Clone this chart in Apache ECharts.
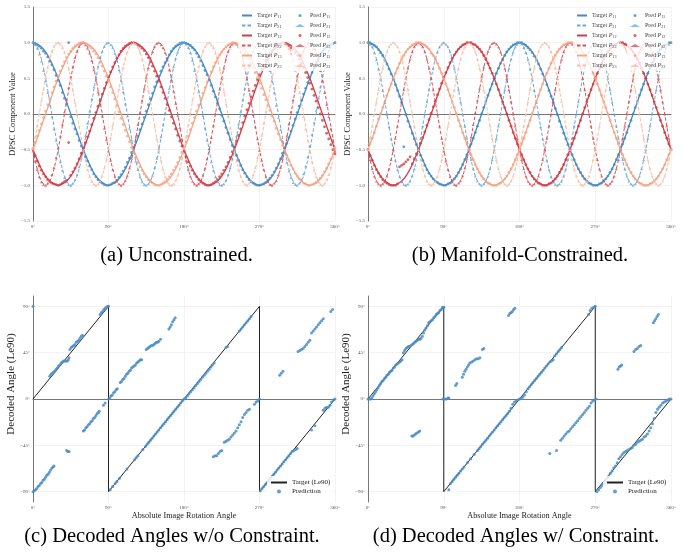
<!DOCTYPE html>
<html><head><meta charset="utf-8">
<script src="https://cdn.jsdelivr.net/npm/echarts@6/dist/echarts.min.js"></script>
<style>html,body{margin:0;padding:0;background:#fff}#c{width:688px;height:554px}</style>
</head><body><div id="c"></div>
<script>
// ---------- DATA ----------
const xTickValues = [0, 90, 180, 270, 360];
const xTickLabels = ['0°', '90°', '180°', '270°', '360°'];
const yTopTickValues = [-1.5, -1, -0.5, 0, 0.5, 1, 1.5];
const yTopTickLabels = ['−1.5', '−1.0', '−0.5', '0.0', '0.5', '1.0', '1.5'];
const yLe90TickValues = [-90, -45, 0, 45, 90];
const yLe90TickLabels = ['−90°', '−45°', '0°', '45°', '90°'];

const targetAngles = [0,5,10,15,20,25,30,35,40,45,50,55,60,65,70,75,80,85,90,95,100,105,110,115,120,125,130,135,140,145,150,155,160,165,170,175,180,185,190,195,200,205,210,215,220,225,230,235,240,245,250,255,260,265,270,275,280,285,290,295,300,305,310,315,320,325,330,335,340,345,350,355,360];
const tgtP11 = [1,.98,.94,.87,.77,.64,.5,.34,.17,0,-.17,-.34,-.5,-.64,-.77,-.87,-.94,-.98,-1,-.98,-.94,-.87,-.77,-.64,-.5,-.34,-.17,0,.17,.34,.5,.64,.77,.87,.94,.98,
1,.98,.94,.87,.77,.64,.5,.34,.17,0,-.17,-.34,-.5,-.64,-.77,-.87,-.94,-.98,-1,-.98,-.94,-.87,-.77,-.64,-.5,-.34,-.17,0,.17,.34,.5,.64,.77,.87,.94,.98,1];
const tgtP21 = [1,.94,.77,.5,.17,-.17,-.5,-.77,-.94,-1,-.94,-.77,-.5,-.17,.17,.5,.77,.94,
1,.94,.77,.5,.17,-.17,-.5,-.77,-.94,-1,-.94,-.77,-.5,-.17,.17,.5,.77,.94,
1,.94,.77,.5,.17,-.17,-.5,-.77,-.94,-1,-.94,-.77,-.5,-.17,.17,.5,.77,.94,
1,.94,.77,.5,.17,-.17,-.5,-.77,-.94,-1,-.94,-.77,-.5,-.17,.17,.5,.77,.94,1];
const tgtP12 = [-.5,-.64,-.77,-.87,-.94,-.98,-1,-.98,-.94,-.87,-.77,-.64,-.5,-.34,-.17,0,.17,.34,.5,.64,.77,.87,.94,.98,1,.98,.94,.87,.77,.64,.5,.34,.17,0,-.17,-.34,
-.5,-.64,-.77,-.87,-.94,-.98,-1,-.98,-.94,-.87,-.77,-.64,-.5,-.34,-.17,0,.17,.34,.5,.64,.77,.87,.94,.98,1,.98,.94,.87,.77,.64,.5,.34,.17,0,-.17,-.34,-.5];
const tgtP22 = [-.5,-.77,-.94,-1,-.94,-.77,-.5,-.17,.17,.5,.77,.94,1,.94,.77,.5,.17,-.17,
-.5,-.77,-.94,-1,-.94,-.77,-.5,-.17,.17,.5,.77,.94,1,.94,.77,.5,.17,-.17,
-.5,-.77,-.94,-1,-.94,-.77,-.5,-.17,.17,.5,.77,.94,1,.94,.77,.5,.17,-.17,
-.5,-.77,-.94,-1,-.94,-.77,-.5,-.17,.17,.5,.77,.94,1,.94,.77,.5,.17,-.17,-.5];
const tgtP13 = [-.5,-.34,-.17,0,.17,.34,.5,.64,.77,.87,.94,.98,1,.98,.94,.87,.77,.64,.5,.34,.17,0,-.17,-.34,-.5,-.64,-.77,-.87,-.94,-.98,-1,-.98,-.94,-.87,-.77,-.64,
-.5,-.34,-.17,0,.17,.34,.5,.64,.77,.87,.94,.98,1,.98,.94,.87,.77,.64,.5,.34,.17,0,-.17,-.34,-.5,-.64,-.77,-.87,-.94,-.98,-1,-.98,-.94,-.87,-.77,-.64,-.5];
const tgtP23 = [-.5,-.17,.17,.5,.77,.94,1,.94,.77,.5,.17,-.17,-.5,-.77,-.94,-1,-.94,-.77,
-.5,-.17,.17,.5,.77,.94,1,.94,.77,.5,.17,-.17,-.5,-.77,-.94,-1,-.94,-.77,
-.5,-.17,.17,.5,.77,.94,1,.94,.77,.5,.17,-.17,-.5,-.77,-.94,-1,-.94,-.77,
-.5,-.17,.17,.5,.77,.94,1,.94,.77,.5,.17,-.17,-.5,-.77,-.94,-1,-.94,-.77,-.5];

const predAngles = [0,2.5,5,7.5,10,12.5,15,17.5,20,22.5,25,27.5,30,32.5,35,37.5,40,42.5,45,47.5,50,52.5,55,57.5,60,62.5,65,67.5,70,72.5,75,77.5,80,82.5,85,87.5,
90,92.5,95,97.5,100,102.5,105,107.5,110,112.5,115,117.5,120,122.5,125,127.5,130,132.5,135,137.5,140,142.5,145,147.5,150,152.5,155,157.5,160,162.5,165,167.5,170,172.5,175,177.5,
180,182.5,185,187.5,190,192.5,195,197.5,200,202.5,205,207.5,210,212.5,215,217.5,220,222.5,225,227.5,230,232.5,235,237.5,240,242.5,245,247.5,250,252.5,255,257.5,260,262.5,265,267.5,
270,272.5,275,277.5,280,282.5,285,287.5,290,292.5,295,297.5,300,302.5,305,307.5,310,312.5,315,317.5,320,322.5,325,327.5,330,332.5,335,337.5,340,342.5,345,347.5,350,352.5,355,357.5,360];

// (a) Unconstrained predictions
const predA_P11 = [1,.99,.97,.95,.92,.88,.85,.80,.74,.69,.62,.54,
.47,.40,.30,.22,.14,1,-.04,-.13,-.21,-.28,-.37,-.45,
-.52,-.60,-.66,-.73,-.78,-.84,-.88,-.92,-.95,-.97,-.99,-1,
-1,-.99,-.97,-.96,-.93,-.89,-.85,-.80,-.75,-.68,-.62,-.54,
-.47,-.39,-.31,-.22,-.14,-.05,.04,.13,.21,.29,.38,.45,
.53,.60,.66,.72,.78,.83,.88,.92,.95,.97,.99,1,
1,.99,.98,.96,.93,.90,.85,.80,.75,.68,.61,.55,
.48,.40,.32,.24,.15,.07,-.02,-.10,-.19,-.27,-.36,-.44,
-.51,-.58,-.65,-.72,-.78,-.83,-.88,-.92,-.95,-.97,-.99,-1,
-1,-.99,-.98,-.96,-.93,-.90,-.86,-.81,-.76,-.70,-.63,-.55,
-.48,-.41,-.33,-.24,-.16,-.07,.02,.11,.19,.28,.36,.44,
.51,.58,.65,.72,.77,.83,.87,.91,.94,.97,.98,.99,1];
const predA_P21 = [1,.97,.92,.84,.74,.61,.46,.30,.13,-.04,-.21,-.37,
-.53,-.67,-.79,-.89,-.95,-.99,-1,-.97,-.92,-.85,-.74,-.6,
-.46,-.30,-.13,.04,.21,.38,.53,.67,.79,.88,.95,.99,
1,.97,.93,.85,.75,.62,.47,.31,.14,-.03,-.2,-.36,
-.52,-.66,-.78,-.88,-.95,-.99,-1,-.98,-.93,-.86,-.75,-.62,
-.48,-.32,-.15,.02,.19,.36,.52,.66,.78,.87,.94,.99,
1,.98,.93,.86,.75,.61,.47,.31,.14,-.02,-.2,-.37,
-.53,-.67,-.79,-.88,-.95,-.99,-1,-.98,-.93,-.85,-.75,-.62,
-.47,-.31,-.14,.03,.2,.36,.52,.66,.78,.88,.94,.99,
1,.97,.92,.85,.74,.61,.46,.3,.12,-.05,-.22,-.38,
-.54,-.68,-.8,-.89,-.96,-.99,-1,-.97,-.92,-.84,-.73,-.6,
-.45,-.29,-.12,.05,.22,.38,.54,.68,.8,.89,.95,.99,1];
const predA_P12 = [-.5,-.58,-.66,-.73,-.79,-.84,-.88,-.92,-.95,-.97,-.98,-.99,
-1,-.99,-.97,-.95,-.93,-.4,-.86,-.81,-.76,-.7,-.63,-.55,
-.48,-.4,-.32,-.24,-.15,-.06,.02,.11,.19,.28,.36,.44,
.52,.59,.66,.72,.78,.83,.88,.92,.95,.97,.99,1,
1,.99,.97,.95,.92,.89,.84,.79,.73,.67,.6,.53,
.46,.38,.3,.22,.13,.05,-.04,-.13,-.21,-.3,-.38,-.45,
-.52,-.6,-.67,-.73,-.79,-.84,-.88,-.92,-.95,-.97,-.99,-1,
-1,-.99,-.97,-.95,-.92,-.88,-.84,-.79,-.74,-.68,-.61,-.53,
-.46,-.38,-.3,-.21,-.12,-.03,.06,.15,.24,.32,.4,.48,
.55,.62,.69,.75,.8,.85,.89,.93,.96,.98,.99,1,
.99,.98,.96,.93,.9,.86,.82,.77,.71,.65,.58,.51,
.43,.35,.26,.18,.09,0,-.09,-.18,-.27,-.35,-.43,-.5,-.56];
const predA_P22 = [-.52,-.66,-.78,-.88,-.95,-.99,-1,-.97,-.93,-.85,-.75,-.61,
-.47,-.31,-.14,.03,.2,.37,.52,.66,.79,.88,.95,.99,
1,.97,.92,.85,.75,.62,.47,.31,.14,-.03,-.2,-.36,
-.52,-.65,-.78,-.88,-.94,-.98,-1,-.98,-.93,-.86,-.76,-.62,
-.48,-.32,-.15,.02,.19,.36,.51,.65,.78,.88,.95,.99,
1,.97,.93,.86,.76,.62,.48,.32,.15,-.02,-.19,-.35,
-.51,-.65,-.78,-.87,-.94,-.98,-1,-.98,-.94,-.86,-.76,-.63,
-.49,-.33,-.16,.01,.18,.35,.5,.64,.77,.87,.94,.98,
1,.98,.94,.87,.77,.63,.49,.33,.16,-.01,-.18,-.35,
-.51,-.65,-.78,-.88,-.95,-.99,-1,-.97,-.93,-.85,-.75,-.62,
-.47,-.31,-.14,.03,.2,.37,.53,.67,.79,.89,.95,.99,
1,.97,.92,.84,.74,.61,.46,.3,.13,-.04,-.21,-.37,-.52];
const predA_P13 = [-.48,-.4,-.31,-.23,-.14,-.05,.04,.13,.21,.3,.38,.46,
.53,.6,.67,.73,.79,.84,.88,.92,.95,.97,.99,1,
1,.99,.97,.95,.92,.88,.84,.79,.73,.67,.6,.53,
.46,.38,.3,.21,.12,.03,-.06,-.15,-.23,-.31,-.39,-.47,
-.54,-.61,-.68,-.74,-.79,-.84,-.88,-.92,-.95,-.97,-.99,-1,
-1,-.99,-.97,-.95,-.92,-.88,-.84,-.79,-.74,-.68,-.61,-.54,
-.47,-.39,-.31,-.22,-.13,-.05,.04,.12,.21,.29,.37,.45,
.52,.59,.66,.72,.78,.83,.87,.91,.94,.97,.98,1,
.99,.98,.96,.93,.9,.86,.82,.77,.71,.65,.58,.51,
.43,.36,.27,.2,.12,.05,-.03,-.1,-.2,-.28,-.36,-.44,
-.51,-.58,-.65,-.72,-.77,-.83,-.87,-.91,-.94,-.97,-.98,-1,
-1,-.99,-.98,-.96,-.93,-.9,-.86,-.81,-.76,-.7,-.63,-.56,-.49];
const predA_P23 = [-.49,-.33,-.16,.01,.18,.35,.51,.65,.78,.88,.95,.99,
1,.98,.93,.86,.76,.63,.49,.33,.16,-.01,-.18,-.35,
-.51,-.65,-.78,-.88,-.94,-.98,-1,-.98,-.94,-.86,-.76,-.63,
-.49,-.33,-.16,.01,.18,.35,.51,.65,.77,.87,.94,.98,
1,.98,.94,.87,.77,.64,.49,.33,.16,-.01,-.18,-.35,
-.51,-.65,-.78,-.88,-.95,-.99,-1,-.98,-.93,-.86,-.76,-.63,
-.48,-.32,-.15,.02,.19,.36,.52,.66,.78,.88,.95,.99,
1,.97,.93,.85,.75,.62,.47,.31,.14,-.03,-.2,-.36,
-.52,-.66,-.78,-.88,-.94,-.98,-1,-.97,-.93,-.85,-.75,-.61,
-.47,-.3,-.13,.04,.21,.38,.53,.67,.79,.88,.95,.99,
1,.97,.92,.85,.75,.61,.46,.3,.13,-.04,-.21,-.37,
-.53,-.67,-.79,-.88,-.95,-.99,-1,-.97,-.92,-.85,-.74,-.6,-.46];

// (b) Manifold-constrained predictions
const predB_P11 = [1,1,.98,.96,.94,.9,.86,.82,.76,.7,.63,.56,
.49,.41,.33,.25,.16,-.46,-.01,-.1,-.18,-.27,-.35,-.43,
-.51,-.58,-.65,-.72,-.78,-.83,-.87,-.91,-.94,-.96,-.98,-.99,
-1,-1,-.98,-.97,-.94,-.91,-.87,-.82,-.77,-.71,-.64,-.57,
-.5,-.42,-.34,-.26,-.17,-.09,0,.09,.17,.26,.34,.42,
.5,.57,.64,.71,.77,.82,.87,.91,.94,.97,.98,1,
1,1,.98,.96,.93,.9,.86,.81,.76,.7,.63,.56,
.49,.41,.33,.25,.16,.08,-.01,-.1,-.18,-.27,-.35,-.43,
-.5,-.57,-.64,-.71,-.77,-.82,-.87,-.91,-.94,-.97,-.98,-1,
-1,-1,-.98,-.97,-.94,-.91,-.87,-.82,-.77,-.71,-.64,-.57,
-.5,-.42,-.34,-.26,-.17,-.09,0,.09,.17,.26,.34,.42,
.5,.57,.64,.71,.77,.82,.87,.91,.94,.97,.98,1,1];
const predB_P21 = [1,.98,.94,.86,.76,.63,.49,.33,.16,-.01,-.18,-.35,
-.51,-.65,-.78,-.88,-.95,-.99,-1,-.98,-.94,-.87,-.77,-.64,
-.5,-.34,-.17,0,.17,.34,.5,.64,.77,.87,.94,.98,
1,.98,.94,.87,.77,.64,.5,.34,.17,0,-.17,-.34,
-.5,-.64,-.77,-.87,-.94,-.98,-1,-.98,-.94,-.87,-.77,-.64,
-.5,-.34,-.17,0,.17,.34,.5,.64,.77,.87,.94,.98,
1,.98,.93,.86,.76,.63,.49,.33,.16,-.01,-.18,-.35,
-.51,-.65,-.78,-.88,-.95,-.99,-1,-.98,-.94,-.87,-.77,-.64,
-.5,-.34,-.17,0,.17,.34,.5,.64,.77,.87,.94,.98,
1,.98,.94,.87,.77,.64,.5,.34,.17,0,-.17,-.34,
-.5,-.64,-.77,-.87,-.94,-.98,-1,-.98,-.94,-.87,-.77,-.64,
-.5,-.34,-.17,0,.17,.34,.5,.64,.77,.87,.94,.98,1];
const predB_P12 = [-.5,-.58,-.65,-.72,-.78,-.83,-.88,-.92,-.95,-.97,-.99,-1,
-1,-1,-.98,-.74,-.72,-.7,-.67,-.64,-.6,-.7,-.63,-.56,
-.49,-.41,-.33,-.25,-.16,-.08,.01,.1,.18,.27,.35,.43,
.51,.58,.65,.72,.78,.83,.87,.91,.94,.97,.98,1,
1,1,.98,.97,.94,.91,.87,.82,.77,.71,.64,.57,
.5,.42,.34,.26,.17,.09,0,-.09,-.17,-.26,-.34,-.42,
-.5,-.57,-.64,-.71,-.77,-.82,-.87,-.91,-.94,-.97,-.98,-1,
-1,-1,-.98,-.97,-.94,-.91,-.87,-.82,-.77,-.71,-.64,-.57,
-.5,-.42,-.34,-.26,-.17,-.09,0,.09,.17,.26,.34,.42,
.5,.57,.64,.71,.77,.82,.87,.91,.94,.97,.98,1,
1,1,.98,.97,.94,.91,.87,.82,.77,.71,.64,.57,
.5,.42,.34,.26,.17,.09,0,-.09,-.17,-.26,-.34,-.42,-.5];
const predB_P22 = [-.5,-.64,-.77,-.87,-.94,-.98,-1,-.98,-.94,-.87,-.77,-.64,
-.5,-.34,-.17,0,.17,.34,.5,.64,.77,.87,.94,.98,
1,.98,.94,.87,.77,.64,.5,.34,.17,0,-.17,-.34,
-.52,-.66,-.78,-.88,-.95,-.99,-1,-.97,-.93,-.86,-.76,-.62,
-.48,-.32,-.15,.02,.19,.36,.52,.66,.78,.88,.95,.99,
1,.98,.94,.87,.77,.64,.5,.34,.17,0,-.17,-.34,
-.5,-.64,-.77,-.87,-.94,-.98,-1,-.98,-.94,-.87,-.77,-.64,
-.5,-.34,-.17,0,.17,.34,.5,.64,.77,.87,.94,.98,
1,.98,.94,.87,.77,.64,.5,.34,.17,0,-.17,-.34,
-.5,-.64,-.77,-.87,-.94,-.98,-1,-.98,-.94,-.87,-.77,-.64,
-.5,-.34,-.17,0,.17,.34,.5,.64,.77,.87,.94,.98,
1,.98,.94,.87,.77,.64,.5,.34,.17,0,-.17,-.34,-.5];
const predB_P13 = [-.5,-.42,-.34,-.26,-.17,-.07,0,.09,.17,.26,.34,.42,
.5,.57,.64,.71,.77,.82,.87,.91,.94,.97,.98,1,
1,1,.98,.97,.94,.91,.85,.82,.77,.71,.64,.57,
.5,.42,.34,.26,.17,.09,0,-.09,-.17,-.26,-.34,-.42,
-.5,-.57,-.64,-.71,-.77,-.82,-.87,-.91,-.94,-.97,-.98,-1,
-1,-1,-.98,-.97,-.94,-.91,-.87,-.82,-.77,-.71,-.64,-.57,
-.5,-.42,-.34,-.26,-.17,-.09,0,.09,.17,.26,.34,.42,
.5,.57,.64,.71,.77,.82,.87,.91,.94,.97,.98,1,
1,1,.98,.97,.93,.91,.87,.82,.77,.71,.64,.57,
.5,.42,.34,.26,.17,.09,0,-.09,-.17,-.26,-.34,-.42,
-.5,-.57,-.64,-.71,-.77,-.82,-.87,-.91,-.94,-.97,-.98,-1,
-1,-1,-.98,-.97,-.94,-.91,-.87,-.82,-.77,-.71,-.64,-.57,-.5];
const predB_P23 = [-.5,-.34,-.17,0,.17,.34,.5,.64,.77,.87,.94,.98,
1,.98,.94,.87,.77,.64,.5,.34,.17,0,-.17,-.34,
-.5,-.64,-.77,-.87,-.94,-.98,-1,-.98,-.94,-.87,-.77,-.64,
-.5,-.34,-.17,0,.17,.34,.5,.64,.77,.87,.94,.98,
1,.98,.94,.87,.77,.64,.5,.34,.17,0,-.17,-.34,
-.5,-.64,-.77,-.87,-.94,-.98,-1,-.98,-.94,-.87,-.77,-.64,
-.5,-.34,-.17,0,.17,.34,.5,.64,.77,.87,.94,.98,
1,.98,.94,.87,.77,.64,.5,.34,.17,0,-.17,-.34,
-.5,-.64,-.77,-.87,-.94,-.98,-1,-.98,-.94,-.87,-.77,-.64,
-.5,-.34,-.17,0,.17,.34,.5,.64,.77,.87,.94,.98,
1,.98,.94,.87,.77,.64,.5,.34,.17,0,-.17,-.34,
-.5,-.64,-.77,-.87,-.94,-.98,-1,-.98,-.94,-.87,-.77,-.64,-.5];

// Le90 target (sawtooth with wrap jumps)
const le90X = [0, 90, 90, 270, 270, 360];
const le90Y = [0, 90, -90, 90, -90, 0];

// (c) decoded angles without constraint: [absolute angle, decoded angle]
const predC = [
[0,90],
[0,-90],[1.5,-89],[3,-88],[4.5,-87],[6,-85],[7.5,-84],[9,-82],[10.5,-81],[12,-79],[13.5,-78],[15,-76],[16.5,-74],[18,-73],[19.5,-71],[21,-69],[22.5,-67],[24,-66],[25,-65],
[20,22],[21.5,24],[23,25],[24.5,26],[26,27],[27.5,29],[29,30],[30.5,32],[32,33],[33.5,35],[35,36],[36.5,37],[38,37],[39.5,37],[41,37],[42,38],[43,40],[44,48],[45.5,50],[47,51],[48.5,52],[50,53],[51.5,55],[53,56],[54.5,57],[56,59],[57.5,61],[59,62],
[80,82],[81.5,84],[83,85],[84.5,87],[86,88],[87.5,89],[89,90],[90,90],
[40,-50],[41.5,-51],[43,-51],
[60,-31],[61.5,-30],[63,-28],[64.5,-27],[66,-25],[67.5,-24],[69,-22],[70.5,-21],[72,-19],[73.5,-18],[75,-16],[76.5,-14],[78,-13],[79,-12],[84,-6],[86,-4],
[90,0],[91.5,1],[93,3],[94.5,4],[96,6],[97.5,7],[99,9],[100.5,10],[104,16],[105.5,17],[107,19],[108.5,20],[110,22],[111.5,24],[113,25],[114.5,27],[116,28],[117.5,30],[119,31],[120.5,32],[122,33],[123.5,35],[125,36],[126.5,37],[128,38],[129.5,38],
[135,48],[136.5,49],[138,50],[139.5,51],[141,52],[142.5,52],[144,53],[145.5,54],[147,55],[148.5,55],[150,56],[152,58],[162,68],[163.5,70],[165,72],[166.5,75],[168,77],[169.5,79],
[92,-88],[95,-85],[98,-82],[100,-80],[103,-77],[112,-68],[121,-59],[123,-57],[125,-55],[131,-49],[134,-46],[136,-44],[138,-42],[140,-40],[142,-38],[144,-36],[146,-34],[148,-32],[150,-30],[152,-28],[154,-26],[156,-24],[158,-22],[160,-20],[162,-18],[164,-16],[166,-14],[168,-12],[170,-10],[172,-8],[174,-6],[176,-4],[178,-2],[180,0],[182,1],[184,3],[186,5],[188,7],[190,9],[192,11],[194,13],[196,15],[198,17],[200,19],[202,21],[204,23],[206,25],[208,27],[210,29],[212,31],[214,33],[216,35],[230,50],[232,51],[246,66],[248,68],[250,70],[252,72],[254,74],[256,76],[258,78],[260,80],
[215,-56],[217,-55],[219,-55],[221,-53],[223,-51],[225,-50],[228,-42],[230,-41],[232,-40],[234,-39],[236,-37],[238,-35],[240,-33],[242,-31],[244,-28],[246,-25],[248,-22],[250,-18],[252,-15],[254,-13],[256,-11],[258,-10],[264,-5],[266,-3],[268,-2],[270,0],
[271,-89],[273,-87],[275,-85],[277,-83],[279,-81],[281,-79],[283,-77],[285,-75],[287,-73],[289,-71],[291,-69],[293,-67],[295,-65],[297,-63],[299,-61],[301,-59],[303,-57],[305,-55],[307,-53],[309,-51],[311,-50],[313,-49],[315,-48],[332,-30],[336,-26],[346,-11],[348,-9],[350,-8],[352,-8],[354,-6],[356,-3],[358,-1],[360,0],
[294,23],[296,25],[298,27],[316,46],[318,47],[320,48],[322,49],[324,51],[326,53],[328,55],[330,57],[332,64],[334,66],[336,68],[338,70],[340,72],[342,74],[344,76],[346,78],[355,85],[357,87]
];

// (d) decoded angles with constraint
const predD = [
[0,0],[1.5,0],[3,0],[4.5,1],[6,3],[7.5,5],[9,7],[10.5,9],[12,11],[13.5,13],[15,15],[16.5,17],[18,18],[19.5,20],[21,21],[22.5,23],[24,24],[25.5,26],[27,27],[28.5,28],[30,30],[31.5,31],[33,33],[34.5,34],[36,35],[37.5,36],[39,37],[40.5,38],[42,45],[43.5,47],[45,49],[46.5,50],[48,51],[49.5,51],[51,52],[52.5,53],[54,54],[55.5,55],[57,56],[58.5,57],[60,58],[61.5,58],[63,59],[64.5,61],[66,64],[67.5,67],[69,69],[70.5,71],[72,74],[73.5,75],[75,76],[76.5,77],[78,79],[79.5,80],[81,82],[82.5,83],[84,84],[85.5,86],[87,87],[88.5,89],[90,89],
[52,-36],[53.5,-36],[55,-35],[56.5,-34],[58,-33],[60,-32],[61.5,-31],
[89,0],[91,0],[93,0],[95,1],[96,1],
[104,13],[105.5,15],[112,21],[113.5,24],[115,27],[116.5,29],[118,31],[119.5,33],[121,35],[123,36],[125,37],[127,38],[129,39],[131,39],[133,40],[136,48],[137.5,49],
[167,81],[168.5,83],[170,84],[171.5,85],[173,87],[174.5,88],
[96,-88],[98,-82],[100,-80],[102,-78],[104,-76],[106,-74],[108,-72],[110,-70],[112,-68],[114,-66],[118,-62],[122,-58],[126,-54],[130,-50],[132,-48],[134,-46],[136,-44],[138,-42],[140,-40],[142,-38],[144,-36],[146,-34],[148,-32],[150,-30],[152,-28],[154,-26],[156,-24],[158,-22],[160,-20],[162,-18],[164,-16],[166,-14],[168,-12],[170,-9],[172,-5],[174,-3],[176,-2],[178,-1],[180,0],[182,1],[184,2],[186,4],[188,7],[190,10],[192,12],[194,14],[196,16],[198,18],[200,20],[202,22],[204,24],[206,26],[208,28],[210,30],[212,32],[214,34],[216,36],[218,37],[220,38],[222,42],[224,44],[226,46],[228,48],[230,50],[262,82],[264,86],[266,88],[268,89],[270,90],
[216,-53],[224,-50],[229,-40],[231,-38],[233,-36],[235,-34],[237,-32],[239,-31],[241,-29],[243,-27],[245,-25],[247,-23],[249,-21],[251,-19],[253,-17],[255,-15],[257,-13],[259,-11],[261,-9],[263,-7],[265,-4],[267,-2],[269,-1],[271,0],
[272,-90],[274,-88],[276,-86],[278,-84],[280,-82],[282,-80],[284,-77],[286,-75],[288,-72],[290,-70],[292,-67],[294,-65],[296,-62],[298,-58],[300,-56],[302,-54],[304,-52],[306,-51],[308,-50],[310,-49],[312,-48],[314,-47],[316,-45],[318,-44],[320,-42],[322,-41],[324,-40],[326,-39],[328,-37],[330,-36],[332,-34],[334,-31],[336,-28],[338,-24],[340,-19],[342,-13],[344,-10],[346,-8],[348,-6],[350,-4],[352,-3],[354,-2],[356,-1],[358,0],[360,0],
[297,29],[298.5,31],[300,32],[301.5,33],[316,46],[318,48],[320,49],[322,51],[324,52],[339,74],[340.5,76],[342,78],[343.5,80],[345,82]
];

// ---------- STYLE / BUILD ----------
const SERIF = '"Liberation Serif","DejaVu Serif",serif';
const zip = (xs, ys) => xs.map((x, i) => [x, ys[i]]);
const COL = {P11:'#4689c3', P21:'#6fa7d6', P12:'#d13c46', P22:'#d9545a', P13:'#f4a587', P23:'#f7bea5'};
const comps = ['P11','P21','P12','P22','P13','P23'];
const tgtData = {P11:tgtP11, P21:tgtP21, P12:tgtP12, P22:tgtP22, P13:tgtP13, P23:tgtP23};
const predData = [
  {P11:predA_P11, P21:predA_P21, P12:predA_P12, P22:predA_P22, P13:predA_P13, P23:predA_P23},
  {P11:predB_P11, P21:predB_P21, P12:predB_P12, P22:predB_P22, P13:predB_P13, P23:predB_P23}
];

const grids = [
  {left:33, top:7, width:302, height:214},
  {left:368, top:7, width:303, height:214},
  {left:33, top:296, width:302, height:206},
  {left:368, top:296, width:303, height:206}
];
const axisLine = {show:true, lineStyle:{color:'#777', width:1}};
const splitLine = {show:true, lineStyle:{color:'#f0f0f0', width:0.8}};
const lblStyle = {fontSize:5, color:'#555', fontFamily:SERIF};

const xAxes = grids.map((g, i) => ({
  gridIndex:i, type:'value', min:0, max:360, interval:90,
  axisLine, axisTick:{show:false}, splitLine,
  axisLabel:Object.assign({margin:3, formatter:v => xTickLabels[xTickValues.indexOf(v)]}, lblStyle),
  name: i >= 2 ? 'Absolute Image Rotation Angle' : '',
  nameLocation:'middle', nameGap:10,
  nameTextStyle:{fontSize:8.2, color:'#222', fontFamily:SERIF}
}));
const yAxes = grids.map((g, i) => i < 2 ? ({
  gridIndex:i, type:'value', min:-1.5, max:1.5, interval:0.5,
  axisLine, axisTick:{show:false}, splitLine,
  axisLabel:Object.assign({margin:3, formatter:v => yTopTickLabels[yTopTickValues.findIndex(t => Math.abs(t - v) < 1e-6)]}, lblStyle),
  name:'DPSC Component Value', nameLocation:'middle', nameGap:11,
  nameTextStyle:{fontSize:8.4, color:'#222', fontFamily:SERIF}
}) : ({
  gridIndex:i, type:'value', min:-100, max:100,
  axisLine, axisTick:{show:false, customValues:yLe90TickValues}, splitLine,
  axisLabel:Object.assign({margin:3, customValues:yLe90TickValues, formatter:v => yLe90TickLabels[yLe90TickValues.indexOf(v)]}, lblStyle),
  name:'Decoded Angle (Le90)', nameLocation:'middle', nameGap:10,
  nameTextStyle:{fontSize:11, color:'#222', fontFamily:SERIF, padding:[0,0,0,30]}
}));

const series = [];
[0, 1].forEach(p => {
  comps.forEach(c => {
    const dashed = c[1] === '2';
    series.push({
      name:'Target ' + c, type:'line', xAxisIndex:p, yAxisIndex:p,
      data:zip(targetAngles, tgtData[c]), smooth:0.35, symbol:'none',
      lineStyle:{color:COL[c], width:dashed ? 1 : 1.3, type:dashed ? [3.5, 2] : 'solid'},
      itemStyle:{color:COL[c]}, z:2, silent:true
    });
  });
  comps.forEach(c => {
    const dashed = c[1] === '2';
    series.push({
      name:'Pred ' + c, type:'scatter', xAxisIndex:p, yAxisIndex:p,
      data:zip(predAngles, predData[p][c]),
      symbol:dashed ? 'triangle' : 'circle', symbolSize:dashed ? 2.8 : 2.8,
      itemStyle:{color:COL[c], opacity:0.8}, z:3, silent:true
    });
  });
});
[2, 3].forEach(p => {
  series.push({
    name:'Target (Le90)', type:'line', xAxisIndex:p, yAxisIndex:p,
    data:zip(le90X, le90Y), symbol:'none',
    lineStyle:{color:'#222', width:1}, itemStyle:{color:'#222'}, z:2, silent:true
  });
  series.push({
    name:'Prediction', type:'scatter', xAxisIndex:p, yAxisIndex:p,
    data:p === 2 ? predC : predD, symbolSize:3,
    itemStyle:{color:'#4a8cc6', opacity:0.85}, z:3, silent:true
  });
});

const richTop = {
  t:{fontSize:6, fontFamily:SERIF, color:'#444', lineHeight:6},
  p:{fontSize:6, fontFamily:SERIF, fontStyle:'italic', color:'#444', lineHeight:6},
  s:{fontSize:4.2, fontFamily:SERIF, color:'#444', padding:[3,0,0,0], lineHeight:6}
};
const fmtTop = name => {
  const m = name.match(/^(Target|Pred) P(\d\d)$/);
  return m ? '{t|' + m[1] + ' }{p|P}{s|' + m[2] + '}' : name;
};
function topLegends(off) {
  return [
    {left:238 + off, top:10, orient:'vertical', data:comps.map(c => 'Target ' + c),
     itemWidth:10, itemHeight:5, itemGap:3, padding:[2,3,2,3], selectedMode:false,
     itemStyle:{opacity:0},
     backgroundColor:'rgba(255,255,255,0.8)', formatter:fmtTop, textStyle:{rich:richTop}},
    {left:292 + off, top:10, orient:'vertical', data:comps.map(c => 'Pred ' + c),
     itemWidth:10, itemHeight:3, itemGap:3, padding:[2,3,2,3], selectedMode:false,
     backgroundColor:'rgba(255,255,255,0.8)', formatter:fmtTop, textStyle:{rich:richTop}}
  ];
}
function bottomLegend(left) {
  return {left:left, top:476, orient:'vertical',
    data:[{name:'Target (Le90)', itemStyle:{opacity:0}}, {name:'Prediction'}],
    itemWidth:16, itemHeight:4, itemGap:2, padding:[3,3,3,3], selectedMode:false,
    backgroundColor:'rgba(255,255,255,0.8)',
    textStyle:{fontSize:7, fontFamily:SERIF, color:'#222', lineHeight:7}};
}

const captions = [
  {text:'(a) Unconstrained.', x:176.5, y:256},
  {text:'(b) Manifold-Constrained.', x:520, y:256},
  {text:'(c) Decoded Angles w/o Constraint.', x:172, y:537},
  {text:'(d) Decoded Angles w/ Constraint.', x:516, y:537}
];

const chart = echarts.init(document.getElementById('c'), null, {renderer:'canvas'});
chart.setOption({
  animation:false,
  backgroundColor:'#fff',
  grid:grids,
  xAxis:xAxes,
  yAxis:yAxes,
  legend:[...topLegends(0), ...topLegends(335), bottomLegend(267), bottomLegend(603)],
  series:series,
  graphic:captions.map(c => ({type:'text', x:c.x, y:c.y, silent:true,
    style:{text:c.text, fill:'#000', font:'20.5px ' + SERIF, textAlign:'center', textVerticalAlign:'middle'}}))
});
</script>
</body></html>
